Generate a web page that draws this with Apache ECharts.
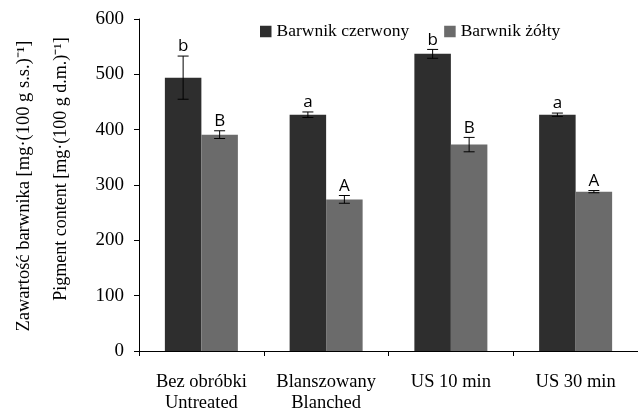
<!DOCTYPE html>
<html><head><meta charset="utf-8">
<script src="https://cdn.jsdelivr.net/npm/echarts@6/dist/echarts.min.js"></script>
<style>html,body{margin:0;padding:0;background:#fff}#c{width:638px;height:414px}</style>
</head><body><div id="c"></div>
<script>
var categories = ['Bez obróbki\nUntreated', 'Blanszowany\nBlanched', 'US 10 min', 'US 30 min'];
var redValues = [494, 427, 537, 427];
var redErrors = [39, 5, 8, 3];
var redLetters = ['b', 'a', 'b', 'a'];
var yellowValues = [391, 274, 373, 288];
var yellowErrors = [7, 7, 13, 2];
var yellowLetters = ['B', 'A', 'B', 'A'];
var yTicks = [0, 100, 200, 300, 400, 500, 600];
var seriesNames = ['Barwnik czerwony', 'Barwnik żółty'];

var BW = 36.5;
var serif = '"Liberation Serif","Times New Roman",serif';
var sans = '"Open Sans","Liberation Sans",sans-serif';

function errSeries(vals, errs, letters, offset) {
  return {
    type: 'custom',
    silent: true,
    z: 10,
    data: vals.map(function (v, i) { return [i, v, errs[i]]; }),
    renderItem: function (params, api) {
      var i = api.value(0), v = api.value(1), e = api.value(2);
      var top = api.coord([i, v + e]);
      var bot = api.coord([i, v - e]);
      var x = top[0] + offset;
      var cw = 5.5;
      var st = { stroke: '#000', lineWidth: 1 };
      return {
        type: 'group',
        children: [
          { type: 'line', shape: { x1: x, y1: top[1], x2: x, y2: bot[1] }, style: st },
          { type: 'line', shape: { x1: x - cw, y1: top[1], x2: x + cw, y2: top[1] }, style: st },
          { type: 'line', shape: { x1: x - cw, y1: bot[1], x2: x + cw, y2: bot[1] }, style: st },
          { type: 'text', style: { text: letters[params.dataIndex], x: x, y: top[1] - 1,
              align: 'center', verticalAlign: 'bottom', font: '17px ' + sans, fill: '#000' } }
        ]
      };
    }
  };
}

var chart = echarts.init(document.getElementById('c'), null, { renderer: 'canvas' });
chart.setOption({
  animation: false,
  backgroundColor: '#fff',
  grid: { left: 139, top: 19, width: 505, height: 333, containLabel: false },
  legend: {
    data: seriesNames,
    left: 260, top: 22, padding: 0,
    icon: 'rect', itemWidth: 11.5, itemHeight: 11.5, itemGap: 35,
    textStyle: { fontFamily: serif, fontSize: 17.5, color: '#000', lineHeight: 19 }
  },
  xAxis: {
    type: 'category',
    data: categories,
    axisLine: { lineStyle: { color: '#000', width: 1 } },
    axisTick: { show: true, length: 5, lineStyle: { color: '#000' } },
    axisLabel: { margin: 21, fontFamily: serif, fontSize: 18.5, color: '#000', lineHeight: 21, interval: 0 }
  },
  yAxis: {
    type: 'value',
    min: 0, max: 600, interval: 100,
    splitLine: { show: false },
    axisLine: { show: true, lineStyle: { color: '#000', width: 1 } },
    axisTick: { show: true, length: 5, lineStyle: { color: '#000' } },
    axisLabel: { margin: 15, fontFamily: serif, fontSize: 19, color: '#000',
      formatter: function (v) { return yTicks.indexOf(v) >= 0 ? String(v) : ''; } }
  },
  series: [
    { name: seriesNames[0], type: 'bar', data: redValues, barWidth: BW, barGap: '0%',
      itemStyle: { color: '#2e2e2e' } },
    { name: seriesNames[1], type: 'bar', data: yellowValues, barWidth: BW, barGap: '0%',
      itemStyle: { color: '#6b6b6b' } },
    errSeries(redValues, redErrors, redLetters, -BW / 2),
    errSeries(yellowValues, yellowErrors, yellowLetters, BW / 2)
  ],
  graphic: [
    { type: 'text', x: 24, y: 186, rotation: Math.PI / 2,
      style: { text: 'Zawartość barwnika [mg·(100 g s.s.)⁻¹]', font: '18.5px ' + serif, fill: '#000',
        align: 'center', verticalAlign: 'middle' } },
    { type: 'text', x: 61, y: 169, rotation: Math.PI / 2,
      style: { text: 'Pigment content [mg·(100 g d.m.)⁻¹]', font: '18px ' + serif, fill: '#000',
        align: 'center', verticalAlign: 'middle' } }
  ]
});
</script>
</body></html>
